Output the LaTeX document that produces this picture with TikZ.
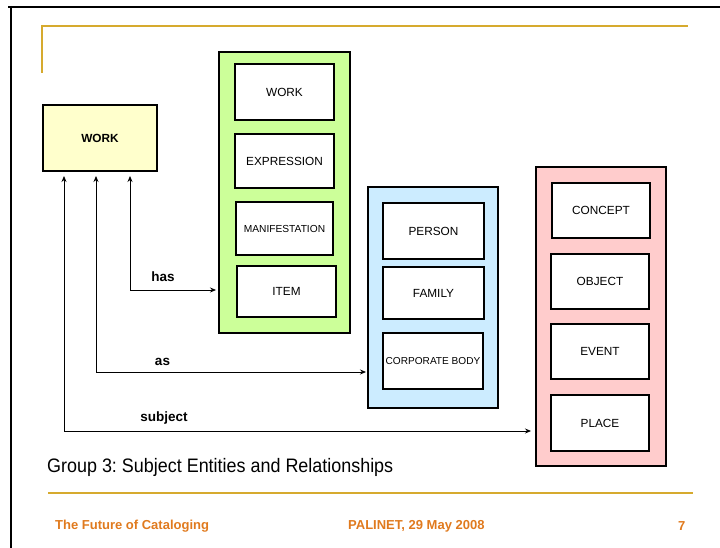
\documentclass[tikz,border=0pt]{standalone}
\usepackage{graphicx}
\usepackage{fontspec}
\setmainfont{Liberation Sans}
\usetikzlibrary{arrows.meta}
\definecolor{gold}{HTML}{D6AA2E}
\definecolor{footor}{HTML}{E07A1E}
\definecolor{wyellow}{HTML}{FFFFCC}
\definecolor{wgreen}{HTML}{CCFF99}
\definecolor{wblue}{HTML}{CCECFF}
\definecolor{wpink}{HTML}{FFCCCC}
\frenchspacing
\begin{document}
\begin{tikzpicture}[x=1pt,y=-1pt,
  outer/.style={draw=black,line width=2pt,inner sep=0pt},
  inbox/.style={draw=black,line width=1.8pt,fill=white,inner sep=0pt,font=\fontsize{11.8}{13}\selectfont},
  lbl/.style={font=\bfseries\fontsize{13.5}{15}\selectfont,inner sep=0pt},
  arr/.style={line width=0.8pt,-{Stealth[length=6pt,width=5pt]}},
  foot/.style={text=footor,font=\bfseries\fontsize{13}{15}\selectfont,inner sep=0pt,anchor=west}]
\useasboundingbox (0,0) rectangle (720,548);
% page frame
\draw[line width=2pt] (8,7) -- (720,7);
\draw[line width=2pt] (11,6) -- (11,548);
% gold rules
\draw[gold,line width=2pt] (41,26) -- (688,26);
\draw[gold,line width=2pt] (42,25) -- (42,73);
\draw[gold,line width=2pt] (48,493) -- (693,493);
% yellow WORK
\node[outer,fill=wyellow,minimum width=114pt,minimum height=66pt,font=\bfseries\fontsize{11.8}{13}\selectfont] (work) at (100,138) {WORK};
% green group
\node[outer,fill=wgreen,minimum width=131pt,minimum height=281pt] (green) at (284.5,192.5) {};
\node[inbox,minimum width=99pt,minimum height=56pt] (gwork) at (284.5,92) {WORK};
\node[inbox,minimum width=99pt,minimum height=54pt] (expr) at (284.5,161) {EXPRESSION};
\node[inbox,minimum width=97pt,minimum height=53pt,font=\fontsize{10.2}{12}\selectfont] (manif) at (284.5,228.5) {MANIFESTATION};
\node[inbox,minimum width=99pt,minimum height=51pt] (item) at (286.5,291.5) {ITEM};
% blue group
\node[outer,fill=wblue,minimum width=130pt,minimum height=221pt] (blue) at (433,297.5) {};
\node[inbox,minimum width=101pt,minimum height=56pt] (person) at (433.5,231) {PERSON};
\node[inbox,minimum width=101pt,minimum height=52pt] (family) at (433.5,293) {FAMILY};
\node[inbox,minimum width=100pt,minimum height=56pt,font=\fontsize{10.1}{12}\selectfont] (corp) at (433,361) {CORPORATE BODY};
% pink group
\node[outer,fill=wpink,minimum width=130pt,minimum height=299pt] (pink) at (601,316.5) {};
\node[inbox,minimum width=98pt,minimum height=55pt] (concept) at (601,210.5) {CONCEPT};
\node[inbox,minimum width=98pt,minimum height=55pt] (object) at (600,281.5) {OBJECT};
\node[inbox,minimum width=98pt,minimum height=55pt] (event) at (600,351.5) {EVENT};
\node[inbox,minimum width=98pt,minimum height=56pt] (place) at (600,423) {PLACE};
% relationship connectors
\coordinate (hc) at (130,290);
\coordinate (ac) at (96,372);
\coordinate (sc) at (64,431);
\draw[arr,shorten >=4pt] (hc) -- (work.south -| hc);
\draw[arr,shorten >=2pt] (hc) -- (hc -| green.west);
\draw[arr,shorten >=4pt] (ac) -- (work.south -| ac);
\draw[arr,shorten >=1pt] (ac) -- (ac -| blue.west);
\draw[arr,shorten >=4pt] (sc) -- (work.south -| sc);
\draw[arr,shorten >=4pt] (sc) -- (sc -| pink.west);
\node[lbl] (lhas) at (163,277) {has};
\node[lbl] (las) at (162.5,362) {as};
\node[lbl] (lsub) at (164,418) {subject};
% caption
\node[anchor=west,inner sep=0pt,font=\fontsize{19.5}{22}\selectfont] (cap) at (47,467) {\scalebox{0.92}[1]{Group 3: Subject Entities and Relationships}};
% footer
\node[foot] (f1) at (55,526) {The Future of Cataloging};
\node[foot] (f2) at (348,526) {PALINET, 29 May 2008};
\node[foot] (f3) at (678,526) {7};
\end{tikzpicture}
\end{document}
